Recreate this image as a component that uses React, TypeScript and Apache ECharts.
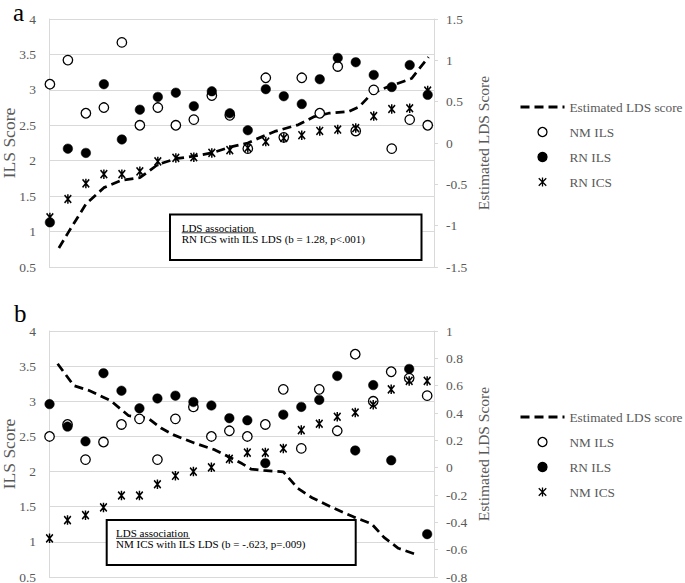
import React, { useEffect, useRef } from 'react';
import * as echarts from 'echarts';

// Subject positions along the (hidden) horizontal axis
const positions = [0, 1, 2, 3, 4, 5, 6, 7, 8, 9, 10, 11, 12, 13, 14, 15, 16, 17, 18, 19, 20, 21];

// Panel a
const nmIlsA = [3.08, 3.42, 2.67, 2.75, 3.67, 2.5, 2.75, 2.5, 2.58, 2.92, 2.64, 2.17, 3.17, 2.33, 3.17, 2.67, 3.33, 2.42, 3.0, 2.17, 2.58, 2.5];
const rnIlsA = [1.13, 2.17, 2.11, 3.08, 2.3, 2.72, 2.9, 2.96, 2.77, 2.98, 2.67, 2.43, 3.01, 2.91, 2.8, 3.15, 3.45, 3.39, 3.21, 3.04, 3.35, 2.93];
const rnIcsA = [1.2, 1.46, 1.68, 1.81, 1.81, 1.85, 1.99, 2.04, 2.05, 2.11, 2.15, 2.18, 2.27, 2.32, 2.36, 2.42, 2.44, 2.46, 2.63, 2.73, 2.74, 2.99];
const ldsAX = [0.5, 1, 2, 3, 4, 5, 6, 7, 8, 9, 10, 11, 11.4, 12.5, 13.8, 14.7, 15.5, 16.6, 17.2, 17.9, 18.8, 20.1, 21.05];
const ldsAY = [-1.27, -1.09, -0.74, -0.54, -0.45, -0.42, -0.26, -0.19, -0.16, -0.12, -0.05, 0, 0.04, 0.14, 0.22, 0.32, 0.36, 0.38, 0.44, 0.6, 0.68, 0.78, 1.04];

// Panel b
const nmIlsB = [2.5, 2.67, 2.17, 2.42, 2.67, 2.75, 2.17, 2.75, 2.92, 2.5, 2.58, 2.5, 2.67, 3.17, 2.33, 3.17, 2.58, 3.67, 3.0, 3.42, 3.33, 3.08];
const rnIlsB = [2.96, 2.64, 2.43, 3.4, 3.15, 2.9, 3.04, 3.08, 2.99, 2.94, 2.76, 2.73, 2.12, 2.81, 2.92, 3.02, 3.36, 2.3, 3.23, 2.16, 3.46, 1.11];
const nmIcsB = [1.05, 1.31, 1.38, 1.49, 1.66, 1.66, 1.82, 1.94, 2.0, 2.06, 2.18, 2.27, 2.27, 2.33, 2.59, 2.68, 2.78, 2.84, 2.95, 3.17, 3.29, 3.29];
const ldsBX = [0.45, 1.35, 2.2, 3.4, 4.4, 5.5, 6.2, 6.9, 8.05, 9.2, 10.1, 10.7, 11.2, 11.9, 13, 13.8, 14.6, 15.7, 16.9, 17.9, 18.6, 19.4, 20.5];
const ldsBY = [0.76, 0.6, 0.565, 0.49, 0.38, 0.36, 0.29, 0.24, 0.18, 0.13, 0.07, 0.03, -0.01, -0.02, -0.03, -0.15, -0.22, -0.29, -0.36, -0.41, -0.51, -0.59, -0.64];

const lineName = 'Estimated LDS score';
const legendA = [lineName, 'NM ILS', 'RN ILS', 'RN ICS'];
const legendB = [lineName, 'NM ILS', 'RN ILS', 'NM ICS'];

const FONT = '"Liberation Serif", "Times New Roman", serif';
const GRAY = '#595959';
const GRID = '#d9d9d9';
const STAR = 'path://M0,1L10,11M10,1L0,11M5,0L5,12';

const pts = (ys: number[]) => positions.map((x, i) => [x, ys[i]]);
const linePts = (xs: number[], ys: number[]) => xs.map((x, i) => [x, ys[i]]);

function leftAxis(gridIndex: number) {
  return {
    gridIndex, type: 'value', position: 'left', min: 0.5, max: 4, interval: 0.5,
    axisLine: { show: true, onZero: false, lineStyle: { color: GRID, width: 1 } },
    axisTick: { show: false },
    axisLabel: { color: GRAY, fontSize: 13.5, fontFamily: FONT, margin: 13 },
    splitLine: { show: true, lineStyle: { color: GRID, width: 1 } },
    name: 'ILS Score', nameLocation: 'middle', nameGap: 31, nameMoveOverlap: false,
    nameTextStyle: { color: GRAY, fontSize: 17.5, fontFamily: FONT },
  };
}
function rightAxis(gridIndex: number, min: number, max: number, interval: number) {
  return {
    gridIndex, type: 'value', position: 'right', min, max, interval,
    axisLine: { show: true, onZero: false, lineStyle: { color: GRID, width: 1 } },
    axisTick: { show: true, length: 4, lineStyle: { color: GRID } },
    axisLabel: { color: GRAY, fontSize: 13.5, fontFamily: FONT, margin: 12 },
    splitLine: { show: false },
    name: 'Estimated LDS Score', nameLocation: 'middle', nameGap: 41, nameMoveOverlap: false,
    nameTextStyle: { color: GRAY, fontSize: 15.5, fontFamily: FONT },
  };
}

function lineSeries(xi: number, yi: number, data: number[][]) {
  return {
    type: 'line', name: lineName, xAxisIndex: xi, yAxisIndex: yi,
    data, symbol: 'none', showSymbol: false, smooth: false, z: 3,
    lineStyle: { color: '#000', width: 2.75, type: [9, 5] },
    itemStyle: { color: '#000' },
  };
}
function openSeries(name: string, xi: number, yi: number, data: number[][]) {
  return {
    type: 'scatter', name, xAxisIndex: xi, yAxisIndex: yi, data, symbol: 'circle', symbolSize: 9.5, z: 4,
    itemStyle: { color: '#fff', borderColor: '#000', borderWidth: 1.3, opacity: 1 },
  };
}
function filledSeries(name: string, xi: number, yi: number, data: number[][]) {
  return {
    type: 'scatter', name, xAxisIndex: xi, yAxisIndex: yi, data, symbol: 'circle', symbolSize: 9.5, z: 5,
    itemStyle: { color: '#000', borderColor: '#000', borderWidth: 0.5, opacity: 1 },
  };
}
function starSeries(name: string, xi: number, yi: number, data: number[][]) {
  return {
    type: 'scatter', name, xAxisIndex: xi, yAxisIndex: yi, data, symbol: STAR, symbolSize: [8, 9.5],
    symbolKeepAspect: true, z: 6,
    itemStyle: { color: '#000', borderColor: '#000', borderWidth: 1.6, opacity: 1 },
  };
}

function legend(names: string[], top: number) {
  return {
    data: names.map((n) =>
      n === lineName
        ? { name: n, itemStyle: { color: 'transparent', borderColor: 'transparent', borderWidth: 0, opacity: 0 } }
        : { name: n }
    ),
    orient: 'vertical', left: 514, top, itemWidth: 44, itemHeight: 9, itemGap: 11,
    selectedMode: false,
    textStyle: { color: GRAY, fontSize: 13.3, fontFamily: FONT, lineHeight: 14 },
    itemStyle: { borderWidth: 1.3 },
    lineStyle: { width: 3 },
  };
}

export default function App() {
  const ref = useRef<HTMLDivElement>(null);
  useEffect(() => {
    if (!ref.current) return;
    const chart = echarts.init(ref.current, undefined, { renderer: 'svg' });
    const option: any = {
      animation: false,
      backgroundColor: '#fff',
      textStyle: { fontFamily: FONT },
      grid: [
        { left: 49, top: 19, width: 385, height: 248, containLabel: false, outerBoundsMode: 'none' },
        { left: 49, top: 331, width: 385, height: 246, containLabel: false, outerBoundsMode: 'none' },
      ],
      xAxis: [
        { gridIndex: 0, type: 'value', min: -0.05, max: 21.35, show: false },
        { gridIndex: 1, type: 'value', min: -0.03, max: 21.38, show: false },
      ],
      yAxis: [
        leftAxis(0),
        rightAxis(0, -1.5, 1.5, 0.5),
        leftAxis(1),
        rightAxis(1, -0.8, 1, 0.2),
      ],
      legend: [legend(legendA, 95), legend(legendB, 405)],
      series: [
        lineSeries(0, 1, linePts(ldsAX, ldsAY)),
        openSeries('NM ILS', 0, 0, pts(nmIlsA)),
        filledSeries('RN ILS', 0, 0, pts(rnIlsA)),
        starSeries('RN ICS', 0, 0, pts(rnIcsA)),
        lineSeries(1, 3, linePts(ldsBX, ldsBY)),
        openSeries('NM ILS', 1, 2, pts(nmIlsB)),
        filledSeries('RN ILS', 1, 2, pts(rnIlsB)),
        starSeries('NM ICS', 1, 2, pts(nmIcsB)),
      ],
      graphic: [
        { type: 'text', x: 13, y: 12.5, z: 100, style: { text: 'a', fontSize: 25, fontFamily: FONT, fill: '#000', align: 'left', verticalAlign: 'middle' } },
        { type: 'text', x: 14, y: 313, z: 100, style: { text: 'b', fontSize: 25, fontFamily: FONT, fill: '#000', align: 'left', verticalAlign: 'middle' } },
        { type: 'rect', z: 100, shape: { x: 170, y: 214.5, width: 251.5, height: 45.5 }, style: { fill: '#fff', stroke: '#000', lineWidth: 2 } },
        { type: 'text', x: 181.7, y: 227.8, z: 101, style: { text: 'LDS association', fontSize: 11, fontFamily: FONT, fill: '#000', align: 'left', verticalAlign: 'middle' } },
        { type: 'line', z: 101, shape: { x1: 181.7, y1: 232.8, x2: 256, y2: 232.8 }, style: { stroke: '#000', lineWidth: 0.8 } },
        { type: 'text', x: 181.7, y: 238.8, z: 101, style: { text: 'RN ICS with ILS LDS (b = 1.28, p<.001)', fontSize: 11, fontFamily: FONT, fill: '#000', align: 'left', verticalAlign: 'middle' } },
        { type: 'rect', z: 100, shape: { x: 106.7, y: 520, width: 249, height: 45 }, style: { fill: '#fff', stroke: '#000', lineWidth: 2 } },
        { type: 'text', x: 116, y: 533.3, z: 101, style: { text: 'LDS association', fontSize: 11, fontFamily: FONT, fill: '#000', align: 'left', verticalAlign: 'middle' } },
        { type: 'line', z: 101, shape: { x1: 116, y1: 538.3, x2: 190, y2: 538.3 }, style: { stroke: '#000', lineWidth: 0.8 } },
        { type: 'text', x: 116, y: 544, z: 101, style: { text: 'NM ICS with ILS LDS (b = -.623, p=.009)', fontSize: 11, fontFamily: FONT, fill: '#000', align: 'left', verticalAlign: 'middle' } },
      ],
    };
    chart.setOption(option);
    return () => chart.dispose();
  }, []);
  return <div ref={ref} style={{ position: 'absolute', left: 0, top: 0, width: 685, height: 583 }} />;
}
